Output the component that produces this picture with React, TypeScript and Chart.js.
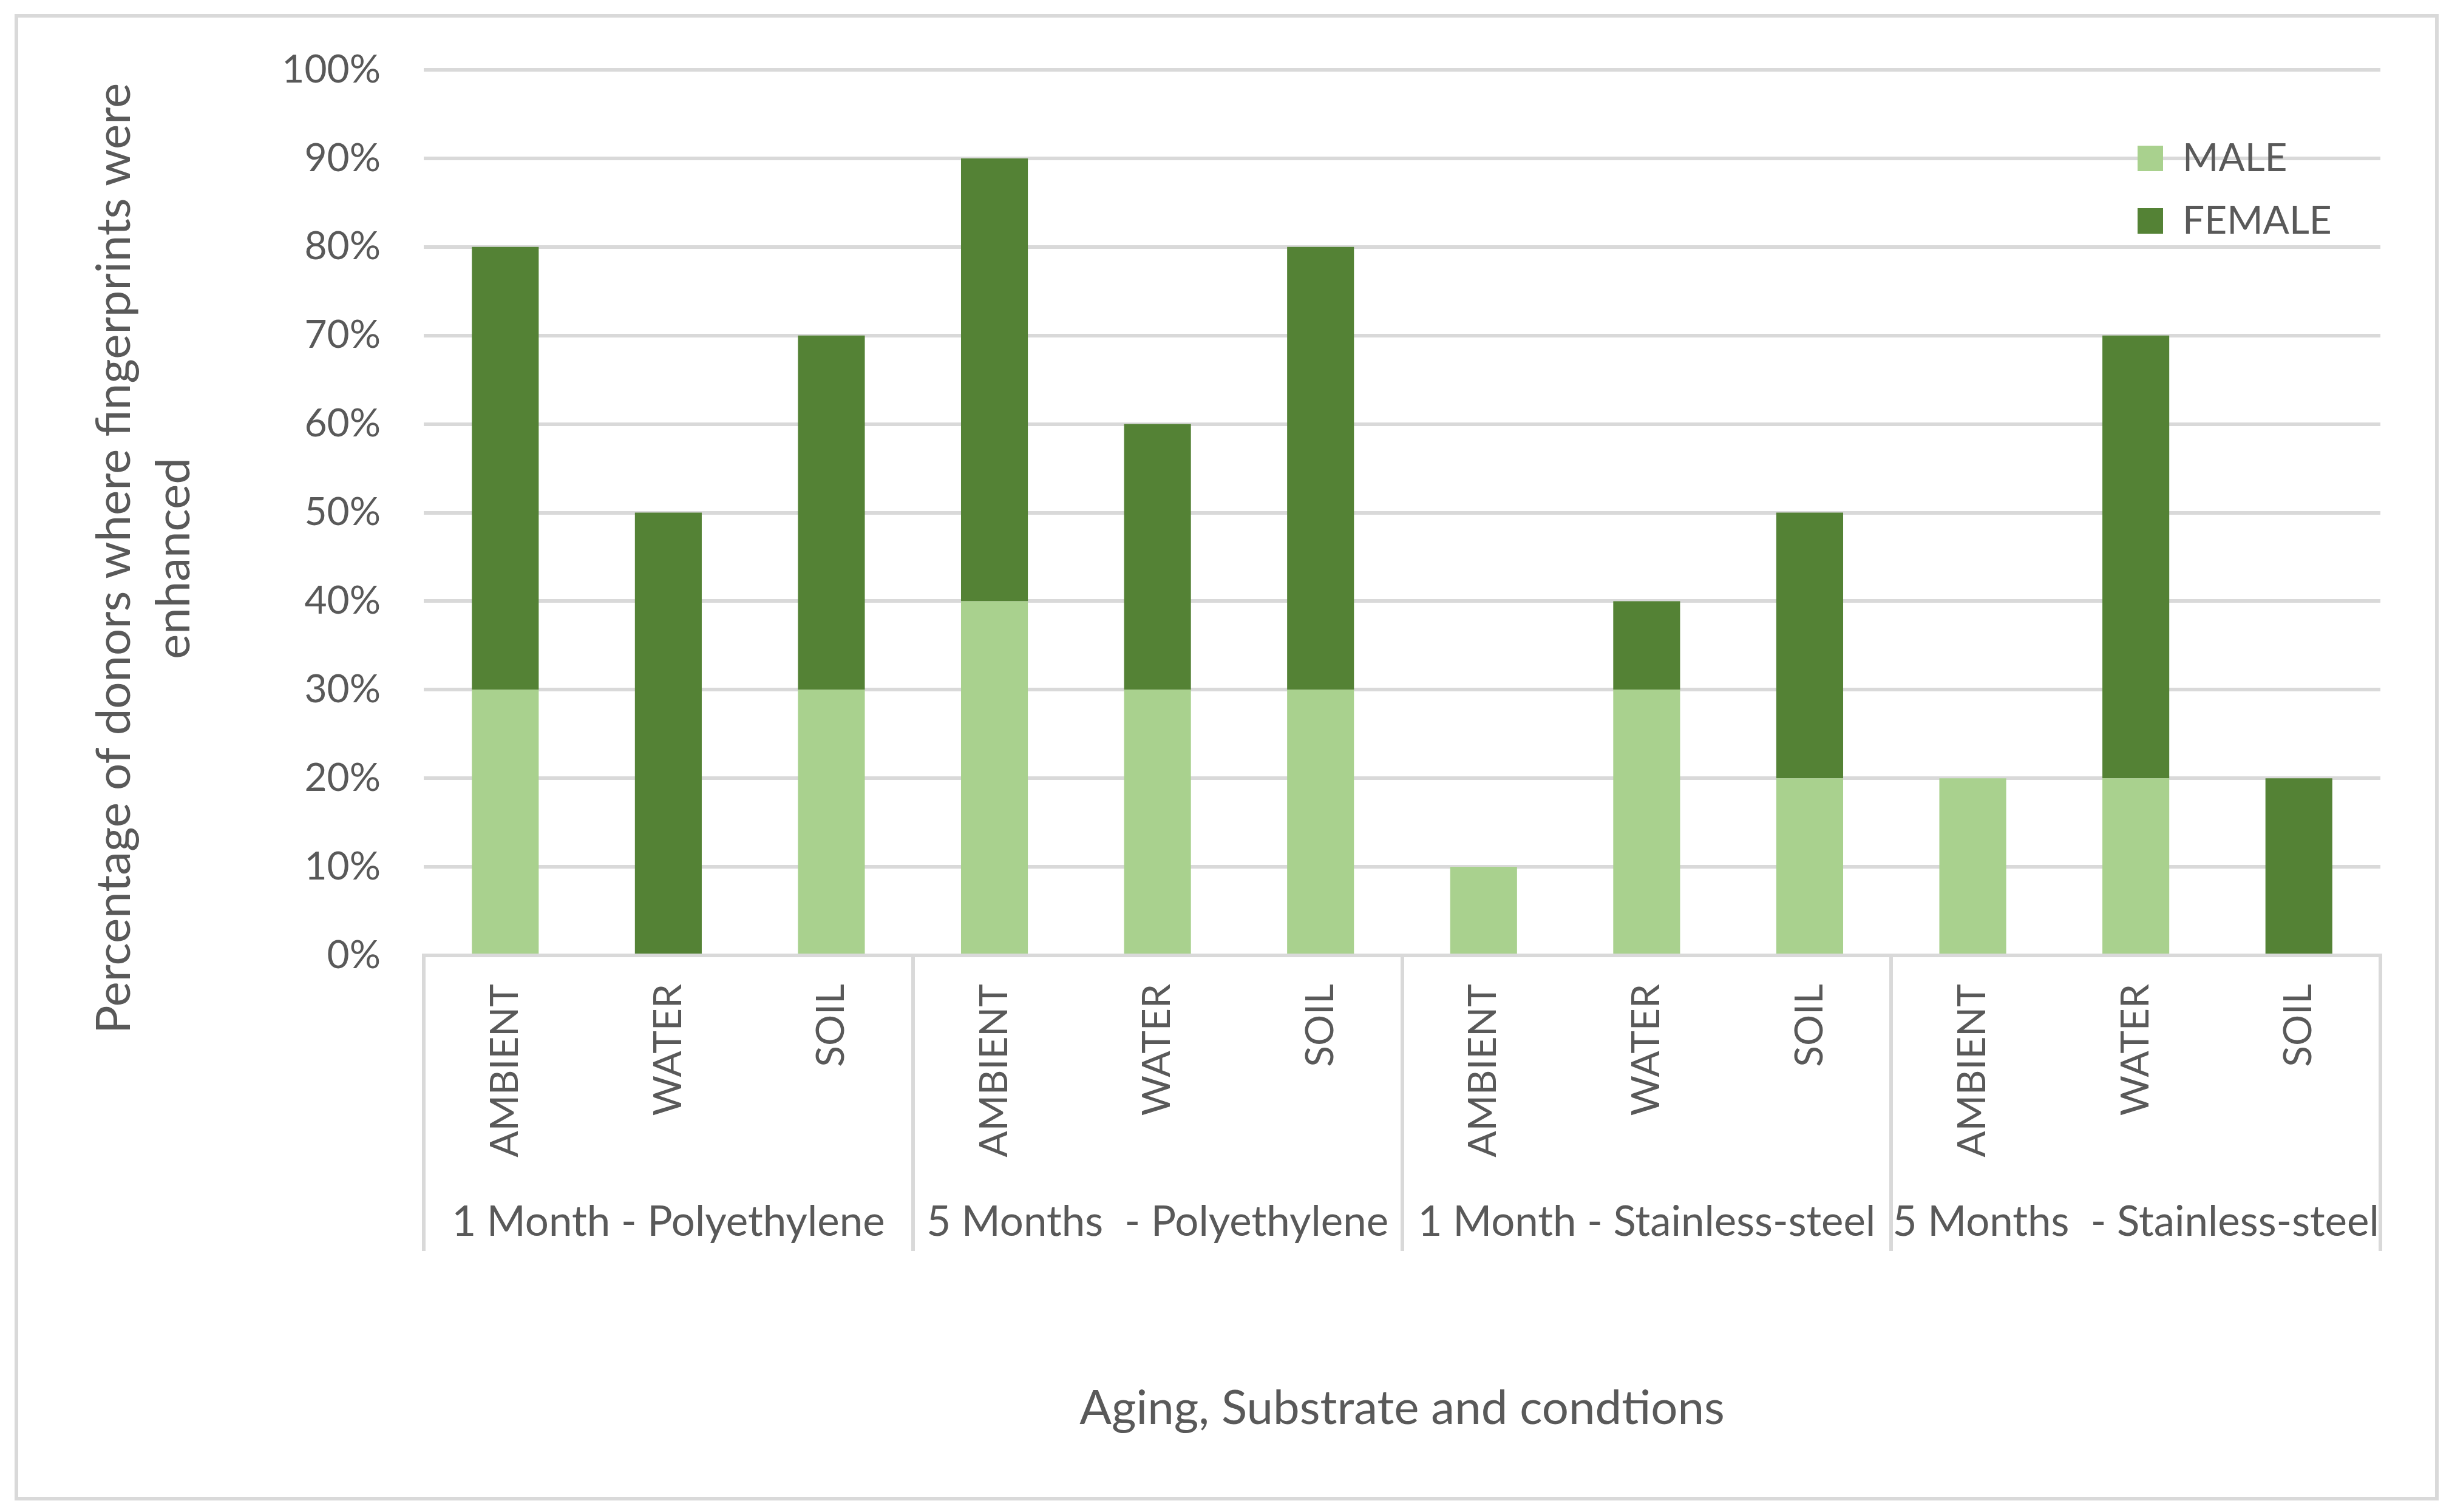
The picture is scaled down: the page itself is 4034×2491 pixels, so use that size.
import React, { useEffect, useRef } from 'react';
import { Chart, registerables } from 'chart.js';

Chart.register(...registerables);

// ---------- data ----------
const CONDITIONS = [
  'AMBIENT', 'WATER', 'SOIL',
  'AMBIENT', 'WATER', 'SOIL',
  'AMBIENT', 'WATER', 'SOIL',
  'AMBIENT', 'WATER', 'SOIL',
];
const GROUPS = [
  '1 Month - Polyethylene',
  '5 Months  - Polyethylene',
  '1 Month - Stainless-steel',
  '5 Months  - Stainless-steel',
];
const SERIES_NAMES = ['MALE', 'FEMALE'];
const MALE = [30, 0, 30, 40, 30, 30, 10, 30, 20, 20, 20, 0];
const FEMALE = [50, 50, 40, 50, 30, 50, 0, 10, 30, 0, 50, 20];
const Y_TITLE_LINES = ['Percentage of donors where fingerprints were', 'enhanced'];
const X_TITLE = 'Aging, Substrate and condtions';

// ---------- style / layout ----------
const W = 4034;
const H = 2491;
const FONT = 'Lato, "Open Sans", sans-serif';
const TEXT_COLOR = '#595959';
const GRID_COLOR = '#d9d9d9';
const MALE_COLOR = '#A9D18E';
const FEMALE_COLOR = '#548235';
const LABEL_SIZE = 64;
const GROUP_SIZE = 69;
const TITLE_SIZE = 78;

const PLOT_LEFT = 698;
const PLOT_RIGHT = 3921;
const PLOT_TOP = 115;
const BOTTOM_PAD = 91;
const X_AXIS_H = 378;
const X2_AXIS_H = 448;

const legendPlacer = {
  id: 'legendPlacer',
  afterLayout(chart: any) {
    const lg = chart.legend;
    if (!lg) return;
    const w = lg.width;
    const h = lg.height;
    lg.left = 3482;
    lg.top = 190;
    lg.right = lg.left + w;
    lg.bottom = lg.top + h;
  },
};

const yTitlePlugin = {
  id: 'yTitle',
  afterDraw(chart: any) {
    const ctx = chart.ctx as CanvasRenderingContext2D;
    ctx.save();
    ctx.translate(189, 920);
    ctx.rotate(-Math.PI / 2);
    ctx.font = `${TITLE_SIZE}px ${FONT}`;
    ctx.fillStyle = TEXT_COLOR;
    ctx.textAlign = 'center';
    ctx.textBaseline = 'middle';
    Y_TITLE_LINES.forEach((line, i) => ctx.fillText(line, 0, i * 98));
    ctx.restore();
  },
};

export default function App() {
  const ref = useRef<HTMLCanvasElement>(null);

  useEffect(() => {
    if (!ref.current) return;
    const font = { family: FONT, size: LABEL_SIZE };
    const chart = new Chart(ref.current, {
      type: 'bar',
      data: {
        labels: CONDITIONS,
        datasets: [
          {
            label: SERIES_NAMES[0],
            data: MALE,
            backgroundColor: MALE_COLOR,
            borderWidth: 0,
            barPercentage: 0.41,
            categoryPercentage: 1,
          },
          {
            label: SERIES_NAMES[1],
            data: FEMALE,
            backgroundColor: FEMALE_COLOR,
            borderWidth: 0,
            barPercentage: 0.41,
            categoryPercentage: 1,
          },
        ],
      },
      options: {
        animation: false,
        responsive: false,
        devicePixelRatio: 1,
        layout: {
          padding: { left: 0, right: W - PLOT_RIGHT, top: PLOT_TOP, bottom: BOTTOM_PAD },
        },
        plugins: {
          legend: {
            position: 'chartArea' as any,
            fullSize: false,
            align: 'start',
            labels: {
              font,
              color: TEXT_COLOR,
              boxWidth: 42,
              boxHeight: 42,
              padding: 39,
            },
          },
          tooltip: { enabled: false },
          title: { display: false },
        },
        scales: {
          x: {
            type: 'category',
            position: 'bottom',
            stacked: true,
            offset: true,
            weight: 0,
            grid: {
              offset: true,
              drawOnChartArea: false,
              drawTicks: true,
              tickLength: 487,
              lineWidth: 6,
              color: (ctx: any) =>
                ctx.index === undefined || ctx.index % 3 === 0 ? GRID_COLOR : 'rgba(0,0,0,0)',
            },
            border: { display: true, color: GRID_COLOR, width: 6 },
            ticks: {
              autoSkip: false,
              maxRotation: 90,
              minRotation: 90,
              padding: -440,
              color: TEXT_COLOR,
              font,
            },
            afterFit: (s: any) => {
              s.height = X_AXIS_H;
            },
          } as any,
          x2: {
            type: 'category',
            labels: GROUPS,
            position: 'bottom',
            offset: true,
            weight: 1,
            grid: { display: false, drawTicks: false },
            border: { display: false },
            ticks: {
              autoSkip: false,
              maxRotation: 0,
              minRotation: 0,
              padding: 20,
              color: TEXT_COLOR,
              font: { family: FONT, size: GROUP_SIZE },
            },
            title: {
              display: true,
              text: X_TITLE,
              color: TEXT_COLOR,
              font: { family: FONT, size: TITLE_SIZE },
              padding: { top: 0, bottom: 32 },
            },
            afterFit: (s: any) => {
              s.height = X2_AXIS_H;
            },
          } as any,
          y: {
            type: 'linear',
            stacked: true,
            min: 0,
            max: 100,
            ticks: {
              stepSize: 10,
              padding: 71,
              color: TEXT_COLOR,
              font,
              callback: (v: any) => `${v}%`,
            },
            grid: { color: GRID_COLOR, lineWidth: 6, drawTicks: false },
            border: { display: false },
            afterFit: (s: any) => {
              s.width = PLOT_LEFT;
            },
          } as any,
        },
      },
      plugins: [legendPlacer, yTitlePlugin],
    });

    const fonts = (document as any).fonts;
    if (fonts && fonts.ready) {
      fonts.ready.then(() => {
        try { chart.update(); } catch (e) { /* destroyed */ }
      });
    }
    return () => chart.destroy();
  }, []);

  return (
    <div style={{ position: 'fixed', left: 0, top: 0, width: W, height: H, background: '#ffffff', overflow: 'hidden' }}>
      <div
        style={{
          position: 'absolute',
          left: 24,
          top: 23,
          width: 3993,
          height: 2449,
          border: `6px solid ${GRID_COLOR}`,
          boxSizing: 'border-box',
        }}
      />
      <canvas
        ref={ref}
        width={W}
        height={H}
        style={{ position: 'absolute', left: 0, top: 0, width: W, height: H }}
      />
    </div>
  );
}
